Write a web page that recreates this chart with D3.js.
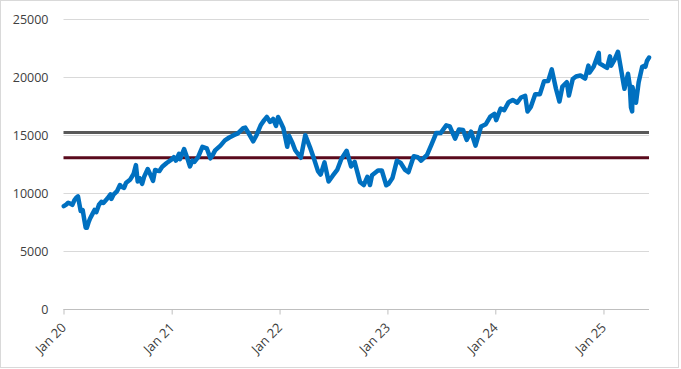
<!DOCTYPE html>
<html>
<head>
<meta charset="utf-8">
<script src="https://cdn.jsdelivr.net/npm/d3@7"></script>
<style>
  html, body { margin: 0; padding: 0; background: #fff; }
  svg { display: block; font-family: "Open Sans", "Liberation Sans", sans-serif; }
</style>
</head>
<body>
<svg id="chart" width="681" height="369"></svg>
<script>
// ---- DATA ----
const dates = [
  "2020-01-02","2020-01-10","2020-01-17","2020-01-24","2020-01-31","2020-02-07","2020-02-14","2020-02-19","2020-02-28","2020-03-06","2020-03-12","2020-03-16","2020-03-20","2020-03-26","2020-03-31","2020-04-09","2020-04-15","2020-04-21","2020-04-30","2020-05-08","2020-05-15","2020-05-29","2020-06-08","2020-06-11","2020-06-19","2020-06-30","2020-07-10","2020-07-15","2020-07-24","2020-07-31","2020-08-14","2020-08-25","2020-09-02","2020-09-08","2020-09-14","2020-09-23","2020-09-30","2020-10-12","2020-10-19","2020-10-30","2020-11-06","2020-11-13","2020-11-20","2020-11-30","2020-12-15","2020-12-31",
  "2021-01-08","2021-01-15","2021-01-26","2021-01-29","2021-02-12","2021-02-23","2021-03-04","2021-03-12","2021-03-19","2021-03-31","2021-04-15","2021-04-30","2021-05-12","2021-05-20","2021-05-28","2021-06-15","2021-06-30","2021-07-15","2021-07-30","2021-08-13","2021-08-31","2021-09-07","2021-09-20","2021-10-04","2021-10-15","2021-10-29","2021-11-10","2021-11-19","2021-11-30","2021-12-10","2021-12-20","2021-12-27",
  "2022-01-05","2022-01-14","2022-01-27","2022-02-02","2022-02-14","2022-02-23","2022-03-14","2022-03-29","2022-04-14","2022-04-29","2022-05-11","2022-05-20","2022-06-02","2022-06-16","2022-06-30","2022-07-15","2022-07-29","2022-08-16","2022-08-31","2022-09-12","2022-09-30","2022-10-13","2022-10-25","2022-11-03","2022-11-10","2022-11-30","2022-12-13","2022-12-28",
  "2023-01-05","2023-01-18","2023-02-02","2023-02-15","2023-03-02","2023-03-13","2023-03-31","2023-04-14","2023-04-25","2023-05-15","2023-05-31","2023-06-15","2023-06-30","2023-07-19","2023-07-31","2023-08-18","2023-08-31","2023-09-14","2023-09-26","2023-10-11","2023-10-26","2023-11-14","2023-11-30","2023-12-15","2023-12-29",
  "2024-01-04","2024-01-19","2024-01-31","2024-02-15","2024-02-29","2024-03-15","2024-03-28","2024-04-11","2024-04-19","2024-04-30","2024-05-15","2024-05-31","2024-06-14","2024-06-28","2024-07-10","2024-07-24","2024-08-05","2024-08-15","2024-08-30","2024-09-06","2024-09-19","2024-09-30","2024-10-15","2024-10-31","2024-11-11","2024-11-15","2024-11-29","2024-12-16","2024-12-18","2024-12-31",
  "2025-01-13","2025-01-23","2025-01-27","2025-02-07","2025-02-19","2025-02-28","2025-03-10","2025-03-13","2025-03-25","2025-03-31","2025-04-04","2025-04-08","2025-04-09","2025-04-21","2025-04-30","2025-05-12","2025-05-21","2025-05-23","2025-05-28","2025-06-04"
];
const values = [
  8870,9000,9170,9100,8990,9400,9620,9720,8460,8530,7600,7020,7010,7500,7810,8250,8550,8350,9000,9250,9150,9550,9900,9500,9900,10160,10700,10550,10450,10900,11180,11650,12420,11000,11300,10800,11420,12080,11700,11050,12000,11940,11900,12270,12600,12890,
  13100,12800,13400,12930,13800,13000,12300,12800,12700,13090,14000,13860,13000,13300,13690,14100,14550,14800,15000,15150,15600,15650,15100,14470,15000,15850,16300,16570,16140,16400,15800,16570,
  16100,15600,14000,14950,14300,13700,13050,15000,13950,12850,11900,11600,12650,11000,11500,12000,12950,13650,12300,12700,10970,10700,11400,10700,11550,11950,11950,10680,
  10800,11300,12800,12600,12000,11800,13180,13100,12800,13300,14250,15180,15180,15850,15760,14700,15500,15450,14600,15300,14100,15750,15950,16600,16830,
  16300,17300,17150,17850,18040,17800,18250,18400,17040,17440,18530,18540,19660,19680,20680,19030,17900,19200,19570,18420,19850,20060,20150,19890,21000,20400,20930,22100,21200,21010,
  20800,21800,21000,21500,22200,20900,19400,19000,20300,19280,17400,17050,19150,17800,19570,20900,21000,20900,21400,21700
];
const refGray = 15230;
const refMaroon = 13060;
const yTicks = [0, 5000, 10000, 15000, 20000, 25000];
const xTickDates = ["2020-01-01","2021-01-01","2022-01-01","2023-01-01","2024-01-01","2025-01-01"];
const xTickLabels = ["Jan 20","Jan 21","Jan 22","Jan 23","Jan 24","Jan 25"];

// ---- CHART ----
const parse = d3.utcParse("%Y-%m-%d");
const series = dates.map((d, i) => ({ date: parse(d), value: values[i] }));
const svg = d3.select("#chart");

// outer border
svg.append("rect").attr("x", 0.5).attr("y", 0.5).attr("width", 678).attr("height", 367)
  .attr("fill", "#fff").attr("stroke", "#d9d9d9");

const x = d3.scaleUtc()
  .domain([parse("2020-01-01"), series[series.length - 1].date])
  .range([63.5, 649]);
const y = d3.scaleLinear().domain([0, 25000]).range([309, 19.3]);

// gridlines
svg.append("g").selectAll("line").data(yTicks).join("line")
  .attr("x1", x.range()[0]).attr("x2", x.range()[1])
  .attr("y1", d => Math.round(y(d)) + 0.5).attr("y2", d => Math.round(y(d)) + 0.5)
  .attr("stroke", "#d9d9d9").attr("stroke-width", 1);

// y axis labels
const yAxis = d3.axisLeft(y).tickValues(yTicks).tickSize(0).tickPadding(15).tickFormat(d3.format("d"));
const gy = svg.append("g").attr("transform", `translate(${x.range()[0]},0)`).call(yAxis);
gy.select(".domain").remove();
gy.selectAll("text").attr("fill", "#404040").style("font-size", "12.5px")
  .attr("font-family", "'Open Sans', sans-serif");

// x axis
const xAxis = d3.axisBottom(x).tickValues(xTickDates.map(parse)).tickSize(5)
  .tickFormat((d, i) => xTickLabels[i]);
const gx = svg.append("g").attr("transform", `translate(0,${Math.round(y(0)) + 0.5})`).call(xAxis);
gx.select(".domain").attr("stroke", "#bfbfbf").attr("d", `M${x.range()[0]},0H${x.range()[1]}`);
gx.selectAll(".tick line").attr("stroke", "#bfbfbf");
gx.selectAll("text").attr("fill", "#404040").style("font-size", "13px")
  .attr("font-family", "'Open Sans', sans-serif")
  .attr("text-anchor", "end").attr("dy", 0).attr("y", 0)
  .attr("transform", "translate(3,19) rotate(-45)");

// reference lines
svg.append("line").attr("x1", x.range()[0]).attr("x2", x.range()[1])
  .attr("y1", y(refGray)).attr("y2", y(refGray))
  .attr("stroke", "#595959").attr("stroke-width", 3);
svg.append("line").attr("x1", x.range()[0]).attr("x2", x.range()[1])
  .attr("y1", y(refMaroon)).attr("y2", y(refMaroon))
  .attr("stroke", "#5a0a1c").attr("stroke-width", 3);

// main series
const line = d3.line().x(d => x(d.date)).y(d => y(d.value));
svg.append("path").datum(series).attr("d", line)
  .attr("fill", "none").attr("stroke", "#0070c0").attr("stroke-width", 4.5)
  .attr("stroke-linejoin", "round").attr("stroke-linecap", "round");
</script>
</body>
</html>
